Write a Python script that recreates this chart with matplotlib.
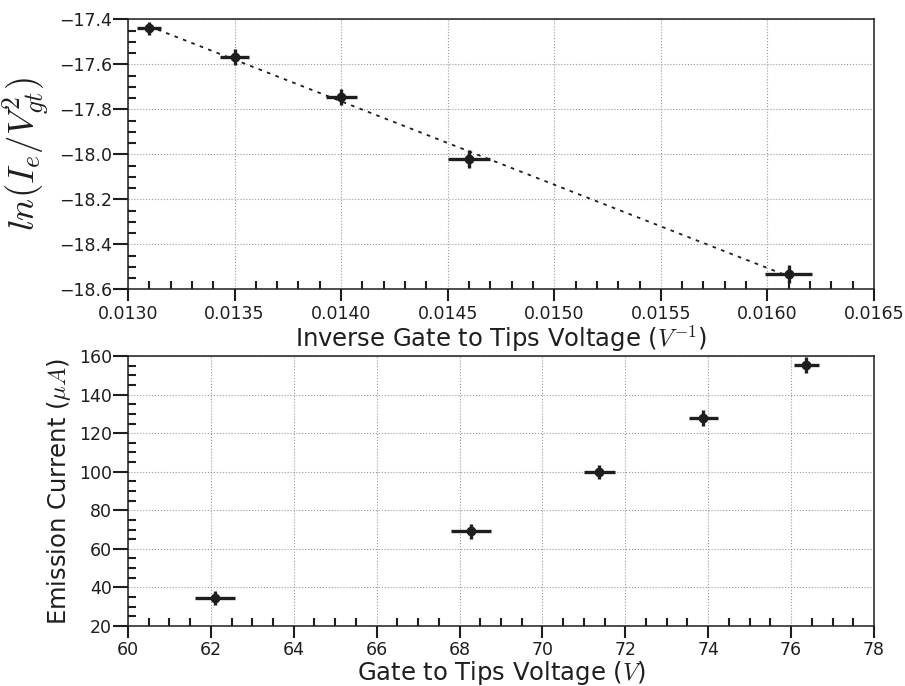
import numpy as np
import matplotlib
matplotlib.use("Agg")
import matplotlib.pyplot as plt
from matplotlib.ticker import MultipleLocator

# inverse gate-to-tips voltage vs ln(Ie / Vgt^2)
inv_v = [0.0131, 0.0135, 0.0140, 0.0146, 0.0161]
inv_v_err = [0.000057, 0.000066, 0.000073, 0.000099, 0.00011]
ln_iv = [-17.44, -17.566, -17.744, -18.022, -18.533]
ln_iv_err = [0.03, 0.035, 0.035, 0.04, 0.04]

# gate-to-tips voltage vs emission current
volts = [62.1, 68.28, 71.37, 73.88, 76.37]
volts_err = [0.48, 0.48, 0.37, 0.35, 0.31]
current = [34.3, 69.1, 99.8, 127.9, 155.3]
current_err = [3.6, 4.0, 3.8, 4.0, 4.0]

plt.rcParams['mathtext.fontset'] = 'cm'
plt.rcParams['font.family'] = 'DejaVu Sans'

fig = plt.figure(figsize=(9.05, 6.86), dpi=100)
ax1 = fig.add_axes([0.1414, 0.5783, 0.8243, 0.3936])
ax2 = fig.add_axes([0.1414, 0.0875, 0.8243, 0.3935])

col = '#1e1e1e'


def style(ax, xmaj, xmin, ymaj, ymin):
    ax.xaxis.set_major_locator(MultipleLocator(xmaj))
    ax.xaxis.set_minor_locator(MultipleLocator(xmin))
    ax.yaxis.set_major_locator(MultipleLocator(ymaj))
    ax.yaxis.set_minor_locator(MultipleLocator(ymin))
    ax.tick_params(which='major', direction='out', width=1.5,
                   labelsize=12.5, color=col, labelcolor=col, top=False, right=False)
    ax.tick_params(axis='x', which='major', length=8.6, pad=2.5)
    ax.tick_params(axis='y', which='major', length=10.8, pad=0.6)
    ax.tick_params(which='minor', direction='in', length=5.8, width=1.5,
                   color=col, top=False, right=False)
    ax.grid(True, which='major', linestyle=':', color='#999999', linewidth=0.8)
    ax.set_axisbelow(True)
    for s in ax.spines.values():
        s.set_linewidth(1.1)
        s.set_color(col)


# top panel
ax1.errorbar(inv_v, ln_iv, xerr=inv_v_err, yerr=ln_iv_err, fmt='o', color=col,
             ms=6, elinewidth=2.4, capsize=0, zorder=3)
fit = np.polyfit(inv_v, ln_iv, 1)
xf = np.array([inv_v[0], inv_v[-1]])
ax1.plot(xf, np.polyval(fit, xf), linestyle=(0, (2, 3)), color=col, lw=1.3, zorder=2)
ax1.set_xlim(0.0130, 0.0165)
ax1.set_ylim(-18.6, -17.4)
style(ax1, 0.0005, 0.0001, 0.2, 0.05)
ax1.set_xlabel(r'Inverse Gate to Tips Voltage ($V^{-1}$)', fontsize=17.5, color=col, labelpad=1)
ax1.set_ylabel(r'$ln(I_e/V_{gt}^2)$', fontsize=26.5, color=col, labelpad=5)

# bottom panel
ax2.errorbar(volts, current, xerr=volts_err, yerr=current_err, fmt='o', color=col,
             ms=6, elinewidth=2.4, capsize=0, zorder=3)
ax2.set_xlim(60, 78)
ax2.set_ylim(20, 160)
style(ax2, 2, 0.5, 20, 5)
ax2.set_xlabel(r'Gate to Tips Voltage ($V$)', fontsize=17.5, color=col, labelpad=0)
ax2.set_ylabel(r'Emission Current ($\mu A$)', fontsize=17.5, color=col, labelpad=4)

fig.savefig('out.png', dpi=100)
